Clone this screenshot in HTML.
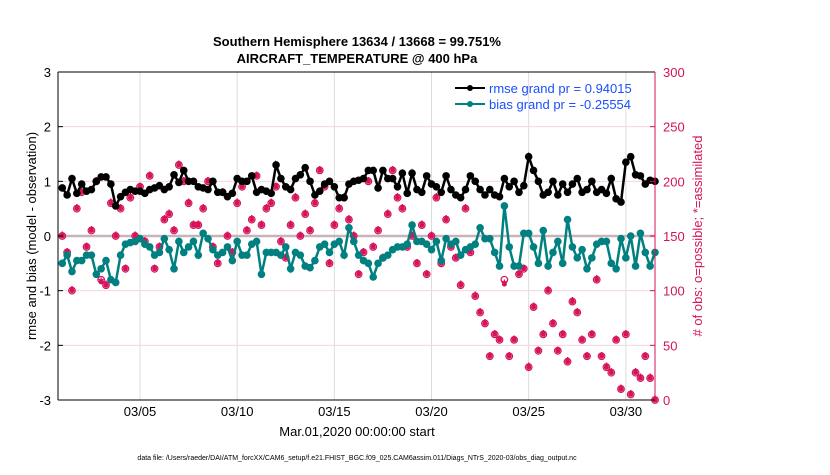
<!DOCTYPE html>
<html><head><meta charset="utf-8"><style>
html,body{margin:0;padding:0;background:#fff;}
svg text{font-family:"Liberation Sans",sans-serif;}
</style></head><body>
<svg id="chart" width="830" height="470" viewBox="0 0 830 470">
<text x="357" y="46" font-size="13" font-weight="bold" text-anchor="middle">Southern Hemisphere 13634 / 13668 = 99.751%</text>
<text x="357" y="63" font-size="13" font-weight="bold" text-anchor="middle">AIRCRAFT_TEMPERATURE @ 400 hPa</text>
<g id="grid"></g>
<g id="marks"></g>
<g id="axes"></g>
<text x="357" y="436" font-size="13" text-anchor="middle">Mar.01,2020 00:00:00 start</text>
<text transform="translate(36,236) rotate(-90)" font-size="13" text-anchor="middle">rmse and bias (model - observation)</text>
<text transform="translate(702,236) rotate(-90)" font-size="13" fill="#d6135a" text-anchor="middle"># of obs: o=possible; *=assimilated</text>
<text x="357" y="460" font-size="7" text-anchor="middle">data file: /Users/raeder/DAI/ATM_forcXX/CAM6_setup/f.e21.FHIST_BGC.f09_025.CAM6assim.011/Diags_NTrS_2020-03/obs_diag_output.nc</text>
<g>
<line x1="455" y1="88" x2="485" y2="88" stroke="#000" stroke-width="2"/>
<circle cx="470" cy="88" r="3" fill="#000"/>
<text x="489" y="93" font-size="13" fill="#1a4fff">rmse grand pr = 0.94015</text>
<line x1="455" y1="104" x2="485" y2="104" stroke="#008080" stroke-width="2"/>
<circle cx="470" cy="104" r="3" fill="#008080"/>
<text x="489" y="109" font-size="13" fill="#1a4fff">bias grand pr = -0.25554</text>
</g>
</svg>
<script>
const xTickLabels = ["03/05","03/10","03/15","03/20","03/25","03/30"];
const xTickDays = [4,9,14,19,24,29];
const yTicksLeft = [-3,-2,-1,0,1,2,3];
const yTicksRight = [0,50,100,150,200,250,300];
const rmse = [0.88,0.75,1.05,0.78,0.95,0.82,0.85,1.0,1.08,1.08,
0.95,0.55,0.72,0.8,0.85,0.82,0.82,0.78,0.85,0.88,
0.92,0.85,0.9,1.12,0.98,1.2,1.0,1.0,0.9,0.88,
0.85,1.0,0.8,0.8,0.72,0.78,1.05,1.0,1.0,1.1,
0.8,0.85,0.82,0.78,1.3,1.05,0.9,0.85,1.05,1.12,
1.25,1.0,0.75,0.82,0.95,1.0,0.9,0.7,0.7,0.95,
1.0,1.02,1.05,1.2,1.2,0.88,1.2,1.05,1.05,0.9,
1.15,0.78,1.15,0.85,0.8,1.1,0.95,0.9,0.8,1.1,
0.85,0.75,0.7,0.85,1.1,1.0,0.85,0.75,0.85,0.75,
0.72,1.05,0.9,1.0,0.8,0.92,1.45,1.2,1.0,0.75,
0.8,1.0,0.75,0.95,0.8,0.95,1.05,0.8,0.85,1.0,
0.8,0.85,0.78,1.05,0.68,0.62,1.35,1.45,1.12,1.1,
0.95,1.02,1.0];
const bias = [-0.5,-0.35,-0.65,-0.45,-0.45,-0.35,-0.35,-0.7,-0.6,-0.45,
-0.8,-0.85,-0.35,-0.15,-0.12,-0.1,-0.05,-0.15,-0.2,-0.35,
-0.3,-0.05,-0.25,-0.6,-0.1,-0.3,-0.2,-0.1,-0.35,0.05,
-0.05,-0.25,-0.35,-0.3,-0.2,-0.45,-0.1,-0.35,-0.35,-0.15,
-0.1,-0.7,-0.3,-0.3,-0.3,-0.35,-0.2,-0.6,-0.3,-0.35,
-0.55,-0.58,-0.45,-0.2,-0.15,-0.3,-0.15,-0.1,-0.35,0.15,
-0.1,-0.35,-0.45,-0.5,-0.75,-0.5,-0.4,-0.35,-0.25,-0.2,
-0.2,-0.15,0.2,-0.1,-0.1,-0.15,-0.25,-0.1,-0.45,-0.05,
-0.15,-0.1,-0.35,-0.25,-0.2,-0.15,0.15,-0.05,-0.05,-0.3,
-0.55,0.55,-0.2,-0.55,-0.55,0.05,0.05,-0.2,-0.5,0.1,
-0.55,-0.3,-0.1,-0.5,0.3,-0.2,-0.4,-0.25,-0.6,-0.4,
-0.15,-0.1,-0.1,-0.5,-0.6,-0.05,-0.4,0.0,-0.55,0.05,
-0.3,-0.55,-0.3];
const nPossible = [150,135,100,175,190,140,155,200,110,105,
180,150,175,120,185,150,195,145,205,120,
140,165,170,155,215,200,180,160,160,175,
200,140,125,190,150,135,180,195,155,165,
205,160,175,180,195,145,130,160,185,150,
170,155,180,210,195,125,160,175,185,165,
150,115,135,200,140,155,130,170,210,185,
175,140,150,125,160,115,150,185,125,165,
140,130,105,175,135,95,80,70,40,60,
55,110,40,55,115,120,30,85,45,60,
100,70,45,60,35,90,80,55,40,60,
110,40,30,25,55,10,60,5,25,20,
40,20,0];
const nAssim = [150,135,100,175,190,140,155,200,108,105,
180,150,175,120,185,150,195,145,205,120,
140,165,170,155,215,200,180,160,160,175,
200,140,125,190,150,135,180,195,155,165,
205,160,175,180,195,145,130,160,185,150,
170,155,180,210,195,125,160,175,185,165,
150,115,135,200,140,155,130,170,210,185,
175,140,150,125,160,115,150,185,125,165,
140,130,105,175,135,95,80,70,40,60,
55,106,40,55,115,120,30,85,45,60,
100,70,45,60,35,90,80,55,40,60,
110,40,30,25,55,10,60,5,25,20,
40,20,0];
</script>
<script>
const NS="http://www.w3.org/2000/svg";
const L=58,R=655,T=72,B=400;
const d0=-0.22,d1=30.5;
const xs=d=>L+(d-d0)/(d1-d0)*(R-L);
const yl=v=>B-(v+3)/6*(B-T);
const yr=v=>B-v/300*(B-T);
function mk(tag,attrs,parent){const e=document.createElementNS(NS,tag);for(const k in attrs)e.setAttribute(k,attrs[k]);parent.appendChild(e);return e;}
const grid=document.getElementById('grid'),marks=document.getElementById('marks'),axes=document.getElementById('axes');
xTickDays.forEach((d,i)=>{
  const g=mk('line',{x1:xs(d),x2:xs(d),y1:T,y2:B,stroke:'#dcdcdc','stroke-width':1},grid);
  
  
  const t=mk('text',{x:xs(d),y:B+16,'font-size':13,'text-anchor':'middle'},axes);t.textContent=xTickLabels[i];
  
  
});
yTicksLeft.forEach(v=>{
  const g=mk('line',{x1:L,x2:R,y1:yl(v),y2:yl(v),stroke:v===0?'#c8b4b8':'#f2d6df','stroke-width':v===0?2.5:1},grid);
  
  
  const t=mk('text',{x:L-7,y:yl(v)+5,'font-size':13,'text-anchor':'end'},axes);t.textContent=v;
  
  
  mk('line',{x1:L,x2:L+5,y1:yl(v),y2:yl(v),stroke:'#000'},axes);
});
yTicksRight.forEach(v=>{
  const t=mk('text',{x:R+8,y:yr(v)+5,'font-size':13,fill:'#d6135a'},axes);t.textContent=v;
  
  
  mk('line',{x1:R-5,x2:R,y1:yr(v),y2:yr(v),stroke:'#d6135a'},axes);
});
mk('line',{x1:L,x2:L,y1:T,y2:B,stroke:'#000'},axes);
mk('line',{x1:L,x2:R,y1:B,y2:B,stroke:'#000'},axes);
mk('line',{x1:L,x2:R,y1:T,y2:T,stroke:'#000'},axes);
mk('line',{x1:R,x2:R,y1:T,y2:B,stroke:'#d6135a'},axes);
const day=i=>i*0.25;
nPossible.forEach((v,i)=>{
  const c=mk('circle',{cx:xs(day(i)),cy:yr(v),r:3.3,fill:'none',stroke:'#d6135a','stroke-width':1.2},marks);
  
  
});
nAssim.forEach((v,i)=>{
  const t=mk('text',{x:xs(day(i)),y:yr(v)+5,'font-size':14,'font-weight':'bold',fill:'#d6135a','text-anchor':'middle'},marks);t.textContent='*';
  
  
  const c=mk('circle',{cx:xs(day(i)),cy:yr(v),r:2.5,fill:'#d6135a'},marks);
  
  
});
function series(arr,color,name){
  const p=mk('polyline',{points:arr.map((v,i)=>xs(day(i))+','+yl(v)).join(' '),fill:'none',stroke:color,'stroke-width':2.5},marks);
  
  
  arr.forEach((v,i)=>{
    const c=mk('circle',{cx:xs(day(i)),cy:yl(v),r:3.8,fill:color},marks);
    
    
  });
}
series(bias,'#008080','bias');
series(rmse,'#000000','rmse');
</script>
</body></html>
